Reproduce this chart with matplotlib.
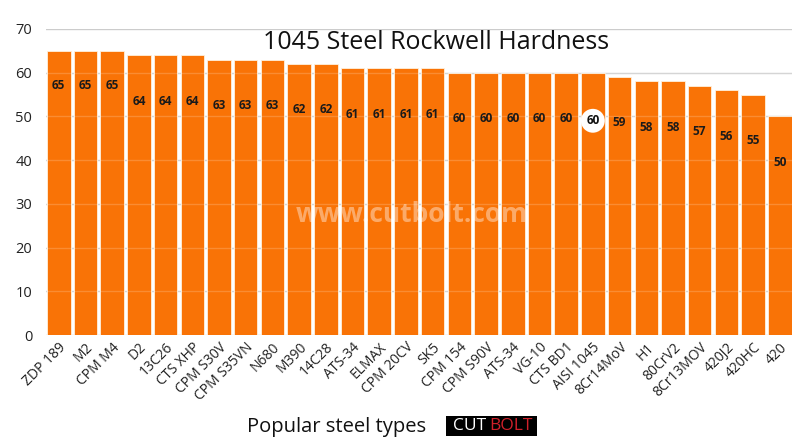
import matplotlib.pyplot as plt
from matplotlib.patches import Rectangle

steels = ["ZDP 189", "M2", "CPM M4", "D2", "13C26", "CTS XHP", "CPM S30V",
          "CPM S35VN", "N680", "M390", "14C28", "ATS-34", "ELMAX", "CPM 20CV",
          "SK5", "CPM 154", "CPM S90V", "ATS-34", "VG-10", "CTS BD1",
          "AISI 1045", "8Cr14MoV", "H1", "80CrV2", "8Cr13MOV", "420J2",
          "420HC", "420"]
hardness = [65, 65, 65, 64, 64, 64, 63, 63, 63, 62, 62, 61, 61, 61,
            61, 60, 60, 60, 60, 60, 60, 59, 58, 58, 57, 56, 55, 50]
highlight = "AISI 1045"

orange = "#F97306"
plt.rcParams["font.family"] = ["Open Sans", "DejaVu Sans"]

fig = plt.figure(figsize=(8.11, 4.45), dpi=100)
ax = fig.add_axes([0.057, 0.247, 0.920, 0.688])

x = list(range(len(steels)))
ax.bar(x, hardness, width=0.88, color=orange, edgecolor="#FFF1DC",
       linewidth=0.6, zorder=2)
ax.set_ylim(0, 70)
ax.set_xlim(-0.47, len(steels) - 0.53)
ax.set_yticks(range(0, 71, 10))
ax.yaxis.grid(True, color="#CCCCCC", linewidth=1, zorder=1)
for yv in range(10, 70, 10):
    ax.axhline(yv, color="white", alpha=0.18, linewidth=1, zorder=3)
for s in ax.spines.values():
    s.set_visible(False)
ax.tick_params(axis="both", length=0, labelsize=10.5, colors="#222222")
ax.tick_params(axis="y", pad=10)
ax.set_xticks(x)
ax.set_xticklabels(steels, rotation=45, ha="right", rotation_mode="anchor",
                   fontsize=10)

for xi, name, v in zip(x, steels, hardness):
    if name == highlight:
        ax.text(xi, v - 11.0, str(v), ha="center", va="center", fontsize=8.5,
                fontweight="bold", color="#111111", zorder=5,
                bbox=dict(boxstyle="circle,pad=0.45", fc="white", ec="none"))
    else:
        off = 8 if v >= 65 else 10.5
        ax.text(xi, v - off, str(v), ha="center", va="center", fontsize=8.5,
                fontweight="bold", color="#1A1A1A", zorder=5)

fig.text(0.538, 0.905, "1045 Steel Rockwell Hardness", ha="center",
         va="center", fontsize=18, fontweight="medium", color="#111111")
fig.text(0.508, 0.517, "www.cutbolt.com", ha="center", va="center",
         fontsize=19, fontweight="bold", color="white", alpha=0.4, zorder=10)

fig.text(0.415, 0.04, "Popular steel types", ha="center", va="center",
         fontsize=14.5, color="#111111")
fig.patches.append(Rectangle((0.550, 0.020), 0.112, 0.045, transform=fig.transFigure,
                             facecolor="black", edgecolor="none"))
fig.text(0.558, 0.042, "CUT", ha="left", va="center", fontsize=12.5,
         color="white")
fig.text(0.603, 0.042, "BOLT", ha="left", va="center", fontsize=12.5,
         color="#D0202A")

fig.savefig("out.png", dpi=100, facecolor="white")
